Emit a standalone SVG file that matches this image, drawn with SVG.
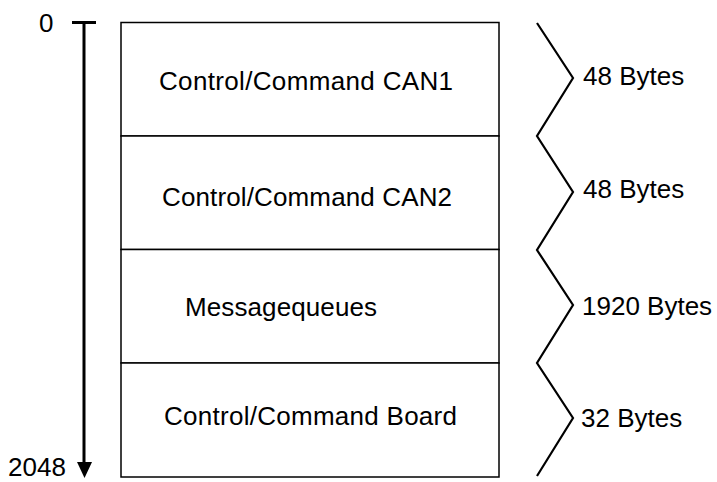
<svg xmlns="http://www.w3.org/2000/svg" width="717" height="482" viewBox="0 0 717 482">
<style>
text{font-family:"Liberation Sans",Arial,sans-serif;font-size:26px;fill:#000}
.box{fill:#fff;stroke:#000;stroke-width:1.5}
.ln{fill:none;stroke:#000;stroke-width:2.2}
</style>
<rect width="717" height="482" fill="#fff"/>
<g id="axis">
<line x1="72" y1="22.5" x2="96" y2="22.5" stroke="#000" stroke-width="3"/>
<line x1="84" y1="22.5" x2="84" y2="464" stroke="#000" stroke-width="3"/>
<polygon points="77,462 92,462 84.5,478" fill="#000"/>
<text x="39" y="32">0</text>
<text x="8" y="476">2048</text>
</g>
<g id="block1">
<rect class="box" x="121" y="22.5" width="378" height="113.5"/>
<text x="159" y="90" textLength="294">Control/Command CAN1</text>
</g>
<g id="block2">
<rect class="box" x="121" y="136" width="378" height="113.5"/>
<text x="162" y="206" textLength="290">Control/Command CAN2</text>
</g>
<g id="block3">
<rect class="box" x="121" y="249.5" width="378" height="113.5"/>
<text x="185" y="316" textLength="192">Messagequeues</text>
</g>
<g id="block4">
<rect class="box" x="121" y="363" width="378" height="114"/>
<text x="164" y="425" textLength="293">Control/Command Board</text>
</g>
<g id="connectors">
<polyline class="ln" points="537,23 573,78 537,136 573,192 537,250 573,305 537,363 573,418 537,476"/>
</g>
<g id="sizes">
<text x="583" y="85">48 Bytes</text>
<text x="583" y="198">48 Bytes</text>
<text x="582" y="315">1920 Bytes</text>
<text x="581" y="427">32 Bytes</text>
</g>
</svg>
